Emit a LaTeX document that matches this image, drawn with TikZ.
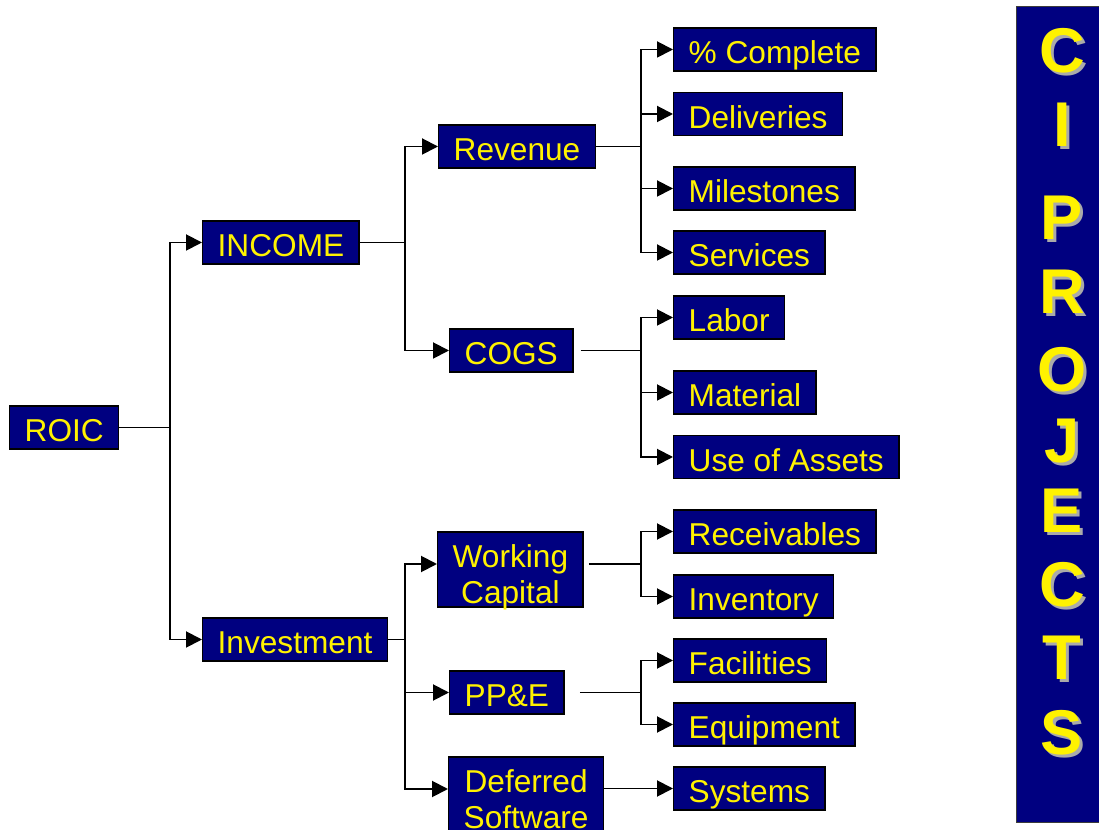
\documentclass[tikz,border=0pt]{standalone}
\usepackage{fontspec}
\setmainfont{Liberation Sans}
\usetikzlibrary{arrows.meta}
\definecolor{boxblue}{RGB}{0,0,128}
\definecolor{shadegray}{RGB}{170,170,170}
\definecolor{rimgray}{RGB}{60,60,60}

\begin{document}
\begin{tikzpicture}[x=0.02cm, y=-0.02cm]
	\tikzstyle{every node} = [rectangle]
	\tikzstyle{box} = [draw=black, line width=0.8pt, fill=boxblue, text=yellow,
		font=\fontsize{18}{21}\selectfont, inner xsep=0.3cm, inner ysep=0pt,
		minimum height=0.86cm, text height=0.58cm, text depth=0pt, anchor=west]
	\tikzstyle{tallbox} = [box, align=center, minimum height=1.5cm, text height=1.38cm]
	\tikzstyle{arr} = [-{Triangle[length=0.32cm, width=0.32cm]}]
	\tikzstyle{letter} = [font=\fontsize{36}{36}\selectfont\bfseries, inner sep=0pt]
	\useasboundingbox (0,0) rectangle (1099,830);
	\begin{scope}[line width=1.1pt]
	% first two levels
	\node[box] (roic)    at (9, 427.5)     {ROIC};
	\node[box] (income)  at (202, 242.5)   {INCOME};
	\node[box] (invest)  at (202, 639.5)   {Investment};
	\node[box] (rev)     at (438, 146.5)   {Revenue};
	\node[box] (cogs)    at (449, 350.5)   {COGS};
	\node[tallbox] (wcap) at (437, 569.5)  {Working\\Capital};
	\node[box] (ppe)     at (449, 692.5)   {PP\&E};
	\node[tallbox] (dsw) at (448, 794.5)   {Deferred\\Software};
	% leaves
	\node[box] (pct)     at (673, 49.5)    {\% Complete};
	\node[box] (deliv)   at (673, 114)     {Deliveries};
	\node[box] (miles)   at (673, 188.5)   {Milestones};
	\node[box] (serv)    at (673, 252.5)   {Services};
	\node[box] (labor)   at (673, 317.5)   {Labor};
	\node[box] (mat)     at (673, 392.5)   {Material};
	\node[box] (uoa)     at (673, 457)     {Use of Assets};
	\node[box] (recv)    at (673, 531.5)   {Receivables};
	\node[box] (inv)     at (673, 596.5)   {Inventory};
	\node[box] (fac)     at (673, 660.5)   {Facilities};
	\node[box] (equip)   at (673, 724.5)   {Equipment};
	\node[box] (sys)     at (673, 788.5)   {Systems};
	% junctions
	\coordinate (jroic)  at (170, 427.5);
	\coordinate (jinc)   at (405, 242.5);
	\coordinate (jinv)   at (405, 639.5);
	\coordinate (jrev)   at (641, 146.5);
	\coordinate (jcogs)  at (641, 350.5);
	\coordinate (jwcap)  at (641, 564);
	\coordinate (jppe)   at (641, 692.5);
	\coordinate (wcapin) at ([yshift=0.11cm]wcap.west);
	\coordinate (dswin)  at ([yshift=0.11cm]dsw.west);
	% connectors
	\draw (roic) -- (jroic);
	\draw[arr] (jroic) |- (income);
	\draw[arr] (jroic) |- (invest);
	\draw (income) -- (jinc);
	\draw[arr] (jinc) |- (rev);
	\draw[arr] (jinc) |- (cogs);
	\draw (invest) -- (jinv);
	\draw[arr] (jinv) |- (wcapin);
	\draw[arr] (jinv) |- (ppe);
	\draw[arr] (jinv) |- (dswin);
	\draw (rev) -- (jrev);
	\foreach \leaf in {pct, deliv, miles, serv}
		\draw[arr] (jrev) |- (\leaf);
	\draw ([xshift=0.14cm]cogs.east) -- (jcogs);
	\foreach \leaf in {labor, mat, uoa}
		\draw[arr] (jcogs) |- (\leaf);
	\draw ([xshift=0.1cm]wcap.east |- jwcap) -- (jwcap);
	\foreach \leaf in {recv, inv}
		\draw[arr] (jwcap) |- (\leaf);
	\draw ([xshift=0.3cm]ppe.east) -- (jppe);
	\foreach \leaf in {fac, equip}
		\draw[arr] (jppe) |- (\leaf);
	\draw[arr] (dsw.east |- sys) -- (sys);
	\end{scope}
	% side bar
	\node[draw=rimgray, line width=0.8pt, fill=boxblue, minimum width=1.8cm,
		minimum height=16.32cm, anchor=north west] (bar) at (1016, 6) {};
	\foreach \l/\y [count=\i] in {C/51, I/125, P/218, R/292, O/370, J/441, E/511, C/585, T/658, S/733} {
		\node[letter, text=shadegray] (shd\i) at (1065, \y+3) {\l};
		\node[letter, text=yellow] (ltr\i) at (1062, \y) {\l};
	}
\end{tikzpicture}
\end{document}
